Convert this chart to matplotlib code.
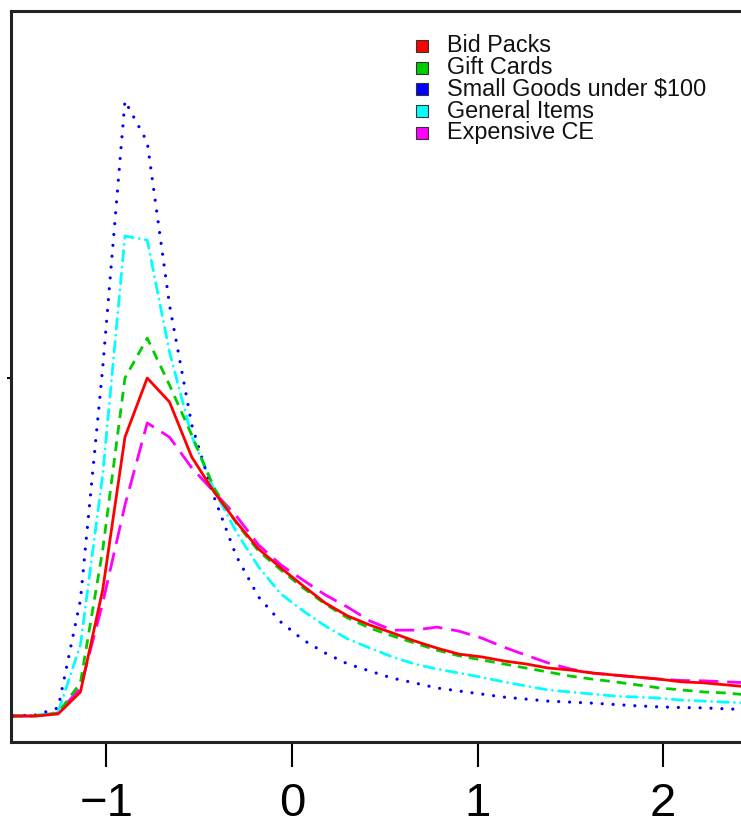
import matplotlib.pyplot as plt
from matplotlib.patches import Rectangle

# grid of x values (log scale bins)
x = [-1.5 + 0.12 * k for k in range(34)]

bid_packs = [0, 0, 0.006, 0.071, 0.373, 0.825, 1.000, 0.929, 0.766, 0.663,
             0.574, 0.494, 0.438, 0.385, 0.334, 0.296, 0.269, 0.246, 0.222, 0.201,
             0.183, 0.175, 0.163, 0.154, 0.142, 0.136, 0.127, 0.121, 0.115, 0.109,
             0.101, 0.098, 0.092, 0.086]
gift_cards = [0, 0, 0.009, 0.098, 0.491, 1.000, 1.118, 0.979, 0.831, 0.675,
              0.571, 0.488, 0.432, 0.379, 0.331, 0.290, 0.260, 0.237, 0.216, 0.195,
              0.178, 0.166, 0.154, 0.142, 0.130, 0.118, 0.109, 0.101, 0.092, 0.083,
              0.077, 0.071, 0.068, 0.062]
small_goods = [0, 0.003, 0.024, 0.343, 1.030, 1.820, 1.698, 1.216, 0.861, 0.648,
               0.473, 0.352, 0.278, 0.225, 0.186, 0.154, 0.133, 0.112, 0.098, 0.083,
               0.074, 0.065, 0.056, 0.050, 0.044, 0.041, 0.038, 0.034, 0.030, 0.027,
               0.025, 0.024, 0.021, 0.019]
general_items = [0, 0.002, 0.012, 0.210, 0.713, 1.420, 1.408, 1.077, 0.828, 0.669,
                 0.544, 0.441, 0.361, 0.311, 0.266, 0.228, 0.201, 0.175, 0.154, 0.139,
                 0.127, 0.115, 0.101, 0.089, 0.077, 0.071, 0.065, 0.059, 0.056, 0.053,
                 0.047, 0.044, 0.041, 0.038]
expensive_ce = [0, 0, 0.009, 0.083, 0.334, 0.624, 0.867, 0.825, 0.734, 0.663,
                0.592, 0.506, 0.447, 0.402, 0.358, 0.322, 0.281, 0.254, 0.254, 0.263,
                0.251, 0.231, 0.204, 0.180, 0.157, 0.139, 0.127, 0.121, 0.115, 0.109,
                0.105, 0.104, 0.101, 0.098]

labels = ['Bid Packs', 'Gift Cards', 'Small Goods under $100', 'General Items', 'Expensive CE']
colors = ['#ff0000', '#00cc00', '#0000ff', '#00ffff', '#ff00ff']
styles = ['-', (0, (3.5, 2.5)), (0, (0.01, 3.4)), (0, (3.8, 2.2, 0.01, 2.2)), (0, (7, 3.2))]
widths = [2.0, 2.0, 2.3, 2.0, 2.0]
series = [bid_packs, gift_cards, small_goods, general_items, expensive_ce]

plt.rcParams['font.family'] = ['Liberation Sans', 'DejaVu Sans']

fig = plt.figure(figsize=(7.41, 8.30), dpi=100)
ax = fig.add_axes([11 / 741, 88 / 830, 763.6 / 741, 731 / 830])

# draw the curves, last one first so the red solid sits on top
for i in range(len(series) - 1, -1, -1):
    ax.plot(x, series[i], color=colors[i], linestyle=styles[i], linewidth=widths[i],
            dash_capstyle='round' if i in (2, 3) else 'butt')

ax.set_xlim(-1.514, 2.60)
ax.set_ylim(-26 / 338, 705 / 338)

ax.set_xticks([-1, 0, 1, 2])
ax.set_xticklabels(['\u22121', '0', '1', '2'])
ax.set_yticks([1.0])
ax.set_yticklabels([''])
ax.tick_params(axis='x', length=18, width=1.5, labelsize=34, pad=11)
ax.tick_params(axis='y', length=3, width=1.5)
for s in ax.spines.values():
    s.set_linewidth(2.2)
    s.set_color('#222222')

# legend drawn by hand: coloured squares with black edge, no frame
for i, lab in enumerate(labels):
    yc = 1 - (46 + 21.7 * i) / 830
    fig.patches.append(Rectangle((416 / 741, yc - 6 / 830), 12 / 741, 12 / 830,
                                 transform=fig.transFigure, facecolor=colors[i],
                                 edgecolor='#333333', linewidth=0.8))
    fig.text(447 / 741, yc, lab, fontsize=16.8, va='center', ha='left', color='#111111')

fig.savefig('out.png', dpi=100)
